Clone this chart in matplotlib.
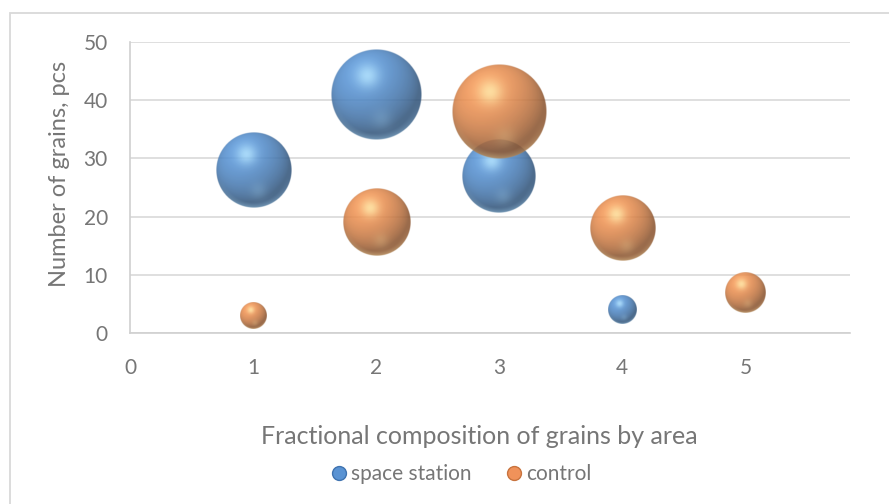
import numpy as np
import matplotlib
matplotlib.use("Agg")
import matplotlib.pyplot as plt
from matplotlib.lines import Line2D
from matplotlib.patches import Rectangle

# Grain counts per area fraction, with each bubble sized by its share (%) of the series
station_x = [1, 2, 3, 4]
station_count = [28, 41, 27, 4]
station_share = [28, 41, 27, 4]

control_x = [1, 2, 3, 4, 5]
control_count = [3, 19, 38, 18, 7]
control_share = [3.5, 22.4, 44.7, 21.2, 8.2]

x_ticks = [0, 1, 2, 3, 4, 5]
y_ticks = [0, 10, 20, 30, 40, 50]

TEXT = "#767676"
GRID = "#D9D9D9"
BUBBLE_SCALE = 14.2  # pixel diameter per sqrt(share)

plt.rcParams["font.family"] = ["Lato", "DejaVu Sans"]


def sphere_rgba(base, light, n=180, alpha=0.87):
    base = np.array(base) / 255.0
    light = np.array(light) / 255.0
    u = np.linspace(-1, 1, n)
    U, V = np.meshgrid(u, u[::-1])
    R = np.sqrt(U**2 + V**2)
    Z = np.sqrt(np.clip(1 - R**2, 0, 1))

    L = np.array([-0.35, 0.55, 0.78])
    L = L / np.linalg.norm(L)
    lam = np.clip(U * L[0] + V * L[1] + Z * L[2], 0, 1)
    col = base[None, None, :] * (0.58 + 0.45 * lam)[..., None]

    # soft highlight up and to the left
    spec = np.exp(-((U + 0.2) ** 2 + (V - 0.42) ** 2) / 0.07)
    col = col + (light - col) * (0.8 * spec)[..., None]
    # faint reflection low in the sphere
    glow = np.exp(-((U - 0.12) ** 2 + (V + 0.55) ** 2) / 0.05)
    col = col + (light - col) * (0.18 * glow)[..., None]
    # light rim along the bottom edge
    rim = np.clip((R - 0.86) / 0.14, 0, 1) * np.clip(-V - 0.2, 0, 1)
    col = col + (light - col) * (0.45 * rim)[..., None]

    a = np.clip((1 - R) * n / 2, 0, 1) * alpha
    return np.dstack([np.clip(col, 0, 1), a])


fig = plt.figure(figsize=(8.89, 5.04), dpi=100)
W, H = 889, 504
ax = fig.add_axes([130 / W, 1 - 333 / H, 720 / W, 291 / H])
ax.set_xlim(0, 5.85)
ax.set_ylim(0, 50)
ax.set_autoscale_on(False)

ax.set_xticks(x_ticks)
ax.set_yticks(y_ticks)
ax.tick_params(length=0, labelsize=15, labelcolor=TEXT)
ax.tick_params(axis="y", pad=16)
ax.tick_params(axis="x", pad=18)
ax.yaxis.grid(True, color=GRID, lw=1.2)
ax.set_axisbelow(True)
for side in ["top", "right"]:
    ax.spines[side].set_visible(False)
for side in ["left", "bottom"]:
    ax.spines[side].set_color("#D0D0D0")
    ax.spines[side].set_linewidth(1.2)

# pixels per data unit, used to turn bubble diameters into extents
p0 = ax.transData.transform((0, 0))
p1 = ax.transData.transform((1, 1))
ppu_x, ppu_y = p1[0] - p0[0], p1[1] - p0[1]

series = [
    (station_x, station_count, station_share, (86, 146, 212), (170, 225, 255)),
    (control_x, control_count, control_share, (240, 146, 82), (255, 232, 160)),
]
for xs, ys, shares, base, light in series:
    img = sphere_rgba(base, light)
    for x, y, s in zip(xs, ys, shares):
        r = BUBBLE_SCALE * np.sqrt(s) / 2
        dx, dy = r / ppu_x, r / ppu_y
        ax.imshow(img, extent=(x - dx, x + dx, y - dy, y + dy),
                  aspect="auto", interpolation="bilinear", zorder=3)

ax.set_xlim(0, 5.85)
ax.set_ylim(0, 50)

ax.set_xlabel("Fractional composition of grains by area", fontsize=18, color=TEXT)
ax.xaxis.set_label_coords((479 - 130) / 720, (333 - 436) / 291)
ax.xaxis.label.set_va("center")
ax.set_ylabel("Number of grains, pcs", fontsize=17, color=TEXT)
ax.yaxis.set_label_coords((60 - 130) / 720, (333 - 174) / 291)
ax.yaxis.label.set_va("center")

handles = [
    Line2D([], [], ls="none", marker="o", markersize=10,
           markerfacecolor="#5A93D3", markeredgecolor="#3F73B0", label="space station"),
    Line2D([], [], ls="none", marker="o", markersize=10,
           markerfacecolor="#F0925A", markeredgecolor="#C8733E", label="control"),
]
fig.legend(handles=handles, loc="center", bbox_to_anchor=(460 / W, 1 - 474 / H),
           ncol=2, frameon=False, fontsize=15, labelcolor=TEXT,
           handletextpad=0.1, columnspacing=1.5, handlelength=1.0)

# chart area outline
fig.add_artist(Rectangle((10 / W, -0.05), 1.1, 1 - 13 / H + 0.05,
                         transform=fig.transFigure, fill=False,
                         edgecolor=GRID, lw=1.3))

fig.savefig("out.png", dpi=100)
